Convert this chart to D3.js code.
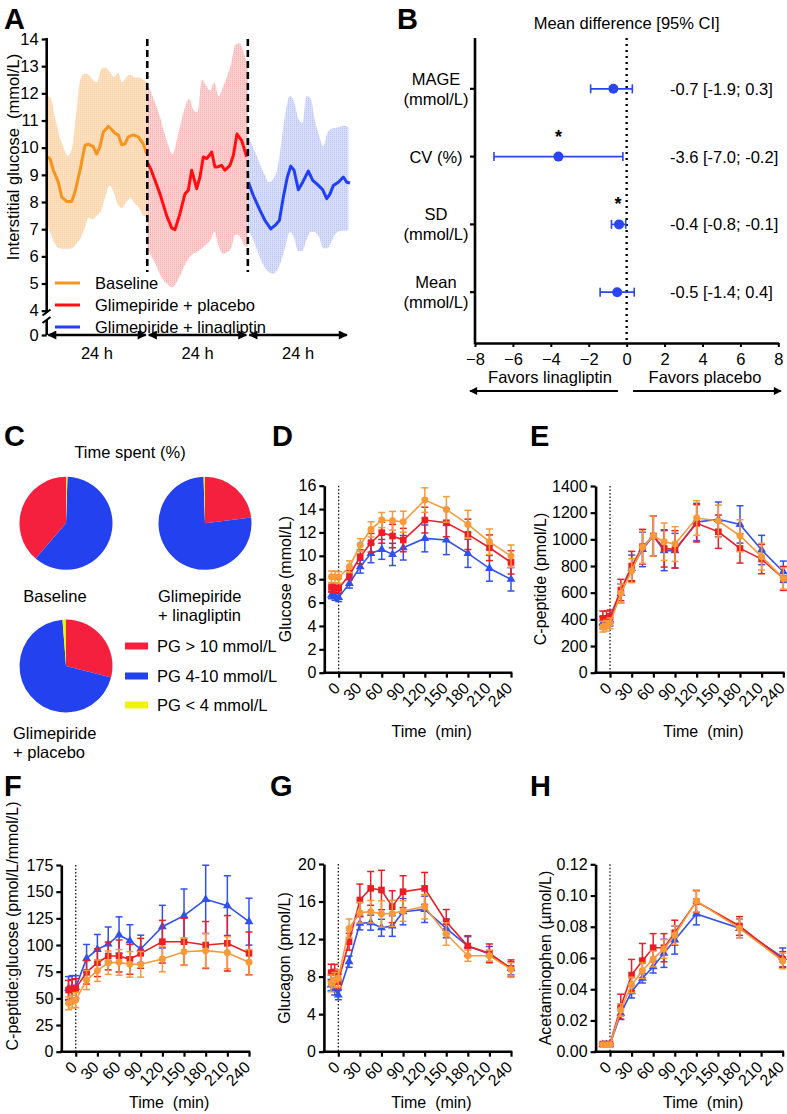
<!DOCTYPE html>
<html><head><meta charset="utf-8">
<script src="https://cdn.jsdelivr.net/npm/d3@7"></script>
<style>
body{margin:0;background:#fff}
svg{font-family:"Liberation Sans",Arial,Helvetica,sans-serif}
</style>
</head><body>
<svg id="c" width="787" height="1114"></svg>
<script>
// ---------------- DATA ----------------
// Panel A: 24-h interstitial glucose (hours within each 24-h period)
const baselineHours = [0,0.79,1.58,2.77,3.58,4.77,5.97,6.75,7.95,9.14,9.93,11.12,11.93,12.72,13.51,14.7,15.51,16.3,17.09,17.9,18.69,19.47,20.67,21.86,23.05,23.87];
const baselineMean  = [9.66,9.6,9.17,8.73,8.18,8.02,8.02,8.37,9.17,10.09,10.13,10.04,9.76,10.04,10.58,10.79,10.67,10.53,10.47,10.11,10.14,10.4,10.47,10.4,10.14,9.78];
const placeboHours  = [0.05,0.88,1.84,3.03,4.63,5.82,6.61,7.8,9.0,9.79,10.6,11.79,12.58,13.37,14.18,14.73,15.37,16.16,16.95,17.76,18.54,19.74,20.53,21.41,22.53,23.72];
const placeboMean   = [9.45,9.2,8.8,8.3,7.5,7.05,6.98,7.57,8.3,8.43,9.17,8.49,8.92,9.66,9.6,9.7,9.84,9.29,9.3,9.35,9.17,9.35,9.7,10.5,10.26,9.66];
const linaHours     = [0.12,1.31,2.91,4.1,5.47,6.49,7.52,8.47,9.43,10.24,11.03,12.05,13.1,14.44,15.49,16.59,17.88,18.83,19.62,20.41,21.6,22.79,23.6,24.39];
const linaMean      = [8.73,8.24,7.69,7.32,7.01,7.14,7.32,8.18,8.92,9.32,9.17,8.45,8.73,9.14,8.8,8.65,8.45,8.12,8.3,8.61,8.73,8.92,8.73,8.7];
const bandHours     = [0,1,2,3,4,5,6,7,8,9,10,11,12,13,14,15,16,17,18,19,20,21,22,23,24];
const baselineUpper = [11.93,11.8,11.1,10.45,10.0,9.7,9.95,11.2,12.5,12.73,12.68,12.5,12.4,12.9,12.95,12.8,12.6,12.75,12.4,12.6,12.68,12.58,12.58,12.5,12.4];
const baselineLower = [7.2,6.8,6.45,6.3,6.28,6.28,6.3,6.45,6.65,7.0,7.42,7.37,7.5,7.68,8.2,8.6,8.35,7.9,7.78,8.0,8.15,7.95,7.8,7.5,7.45];
const placeboUpper  = [12.35,12.0,11.6,11.15,10.6,10.1,9.75,10.25,10.9,11.5,11.8,11.4,11.3,12.49,12.3,12.1,12.4,11.9,12.2,12.6,13.1,13.78,13.84,13.5,13.0];
const placeboLower  = [6.3,6.0,5.7,5.35,5.1,4.95,4.86,5.05,5.35,5.7,5.95,6.1,6.17,6.3,6.43,6.58,6.9,6.4,6.1,6.15,6.3,6.8,6.75,6.45,6.34];
const linaUpper     = [10.46,10.1,9.75,9.35,9.0,8.73,8.85,9.2,10.2,11.3,11.9,11.7,11.1,10.9,11.9,11.8,11.0,10.45,10.05,10.55,10.7,10.73,10.78,10.82,10.75];
const linaLower     = [7.0,6.7,6.33,5.9,5.6,5.42,5.36,5.5,5.85,6.4,6.9,6.7,6.2,6.2,6.6,6.9,6.9,6.7,6.3,6.3,6.55,6.85,6.93,6.95,6.95];
const legendA = ["Baseline","Glimepiride + placebo","Glimepiride + linagliptin"];
const yTicksA = [0,4,5,6,7,8,9,10,11,12,13,14];

// Panel B: forest plot (mean difference and 95% CI)
const bNames = ["MAGE","CV","SD","Mean"];
const bLabels = [["MAGE","(mmol/L)"],["CV (%)"],["SD","(mmol/L)"],["Mean","(mmol/L)"]];
const bMean = [-0.7,-3.6,-0.4,-0.5];
const bLowCI = [-1.9,-7.0,-0.8,-1.4];
const bHighCI = [0.3,-0.2,-0.05,0.4];
const bStar = [false,true,true,false];
const bTicks = [-8,-6,-4,-2,0,2,4,6,8];
const bText = ["-0.7 [-1.9; 0.3]","-3.6 [-7.0; -0.2]","-0.4 [-0.8; -0.1]","-0.5 [-1.4; 0.4]"];

// Panel C: time spent (%)
const pgCats = ["PG > 10 mmol/L","PG 4-10 mmol/L","PG < 4 mmol/L"];
const pieBaseline = [38.7,60.8,0.5];
const pieLina     = [23.0,76.5,0.5];
const piePlacebo  = [29.0,69.8,1.2];

// Panels D-H: meal test time courses
const tAll = [-10,-5,0,15,30,45,60,75,90,120,150,180,210,240];
const tH   = [-10,-5,0,15,30,45,60,75,90,120,180,240];
const xTicks = [0,30,60,90,120,150,180,210,240];

const glucBase = [8.2,8.2,8.15,9.07,10.92,12.26,13.06,13.0,12.92,14.77,13.97,12.69,11.2,9.98];
const glucBaseE= [0.5,0.5,0.5,0.5,0.55,0.65,0.65,0.8,0.9,1.05,1.1,1.2,1.1,0.95];
const glucPlac = [7.3,7.25,7.21,8.36,9.92,11.12,11.98,11.69,11.35,13.06,12.83,11.84,10.69,9.44];
const glucPlacE= [0.4,0.4,0.4,0.4,0.6,0.8,0.9,1.0,1.0,1.1,1.2,1.3,1.1,1.0];
const glucLina = [6.64,6.5,6.44,7.64,9.07,10.21,10.55,10.12,10.69,11.49,11.35,10.21,8.93,7.99];
const glucLinaE= [0.3,0.3,0.35,0.4,0.55,0.8,0.85,0.95,1.05,1.15,1.25,1.2,1.1,1.0];

const cpepBase = [345,352,370,595,765,940,1025,982,965,1160,1137,1027,870,707];
const cpepBaseE= [40,40,40,70,90,120,150,140,130,130,120,120,100,80];
const cpepPlac = [407,407,420,620,800,945,1025,932,925,1120,1057,932,852,707];
const cpepPlacE= [55,55,50,80,110,130,150,140,140,140,125,110,110,90];
const cpepLina = [375,382,395,595,782,925,1025,915,915,1130,1150,1112,920,757];
const cpepLinaE= [45,45,45,70,100,130,150,150,130,140,130,140,110,80];

const ratioBase = [45.3,46.9,48.4,67.2,75.9,83.4,83.75,81.9,81.9,86.9,93.75,94.7,92.8,83.75];
const ratioBaseE= [6,6,7,9,10,11,12,12,12,12,13,16,15,12];
const ratioPlac = [57.8,58.75,59.4,74.4,83.4,89.7,89.7,86.6,92.2,103.1,103.1,100,101.6,92.2];
const ratioPlacE= [9,9,9,11,13,13,15,14,14,20,22,22,26,20];
const ratioLina = [59.4,60.3,60.3,87.5,95.9,100.9,109.4,104,96.25,117.2,127.5,142.8,136.9,121.9];
const ratioLinaE= [11,11,11,13,14,16,17,15,13,20,25,32,28,22];

const glcgBase = [7.28,7.64,7.82,13.14,14.81,14.92,14.67,14.74,14.99,15.45,12.54,10.23,10.23,8.77];
const glcgBaseE= [0.9,0.8,0.9,1.0,1.1,1.2,1.4,1.4,1.1,1.3,1.2,0.6,0.6,0.7];
const glcgPlac = [8.42,8.5,7.46,11.72,16.16,17.4,17.23,15.45,17.05,17.4,13.85,11.26,10.48,8.88];
const glcgPlacE= [0.9,0.8,0.8,0.9,1.7,1.8,2.1,1.7,1.7,1.7,1.3,1.1,1.0,0.9];
const glcgLina = [7.1,6.64,6.04,9.59,13.68,13.75,13.21,13.39,14.92,15.17,13.14,11.26,10.41,8.88];
const glcgLinaE= [0.6,0.6,0.5,0.6,0.7,0.8,0.9,1.1,1.4,1.4,1.0,1.0,0.8,0.7];

const acetBase = [0.0045,0.0045,0.0045,0.0267,0.0427,0.0519,0.0594,0.0658,0.0747,0.0965,0.079,0.0581];
const acetBaseE= [0.0005,0.0005,0.0005,0.004,0.005,0.005,0.005,0.006,0.006,0.007,0.006,0.005];
const acetPlac = [0.0049,0.0049,0.0049,0.0288,0.0491,0.0583,0.0666,0.0666,0.0762,0.0961,0.0805,0.0591];
const acetPlacE= [0.0005,0.0005,0.0005,0.008,0.010,0.011,0.009,0.009,0.008,0.007,0.006,0.005];
const acetLina = [0.0045,0.0045,0.0045,0.0246,0.0384,0.047,0.0544,0.063,0.0715,0.0882,0.079,0.0604];
const acetLinaE= [0.0005,0.0005,0.0005,0.004,0.004,0.003,0.004,0.009,0.009,0.007,0.006,0.006];

// ---------------- DRAWING ----------------
const svg = d3.select("#c");
const COL = {base:"#f7941d", plac:"#ff1010", lina:"#2040f5"};
const COL2 = {base:"#f8993a", plac:"#ee1c24", lina:"#3050f0"};
const FS = 16.5;

const defs = svg.append("defs");
defs.append("marker").attr("id","ah").attr("viewBox","0 0 10 10").attr("refX",9).attr("refY",5)
  .attr("markerWidth",4.4).attr("markerHeight",3.6).attr("orient","auto-start-reverse")
  .append("path").attr("d","M0,0 L10,5 L0,10 z").attr("fill","#000");
function hatch(id,color){
  const p = defs.append("pattern").attr("id",id).attr("patternUnits","userSpaceOnUse").attr("width",2).attr("height",2);
  p.append("rect").attr("width",0.8).attr("height",1.3).attr("fill",color);
}
hatch("hb",COL.base); hatch("hp",COL.plac); hatch("hl",COL.lina);

function letter(t,x,y){ svg.append("text").attr("x",x).attr("y",y).attr("font-size",29).attr("font-weight","bold").text(t); }
letter("A",4,29); letter("B",397,29); letter("C",4,446); letter("D",272,446);
letter("E",530,446); letter("F",4,796); letter("G",270,796); letter("H",530,796);

// ===== Panel A =====
(function(){
  const g = svg.append("g");
  const x = d3.scaleLinear().domain([0,72]).range([46.7,348.4]);
  const y = d3.scaleLinear().domain([0,2,4,14]).range([335,322,310.7,39]);
  const segs = [
    {off:0, h:baselineHours, m:baselineMean, up:baselineUpper, lo:baselineLower, c:COL.base, band:"#fde0c2", pat:"hb"},
    {off:24, h:placeboHours, m:placeboMean, up:placeboUpper, lo:placeboLower, c:COL.plac, band:"#fcd2d2", pat:"hp"},
    {off:48, h:linaHours, m:linaMean, up:linaUpper, lo:linaLower, c:COL.lina, band:"#dbe0fa", pat:"hl"}
  ];
  segs.forEach(s=>{
    const area = d3.area().x((d,i)=>x(s.off+bandHours[i])).y0((d,i)=>y(s.lo[i])).y1((d,i)=>y(s.up[i])).curve(d3.curveMonotoneX);
    g.append("path").attr("d",area(bandHours)).attr("fill",s.band);
    g.append("path").attr("d",area(bandHours)).attr("fill",`url(#${s.pat})`).attr("opacity",0.22);
  });
  segs.forEach(s=>{
    const line = d3.line().x((d,i)=>x(s.off+s.h[i])).y(d=>y(d)).curve(d3.curveLinear);
    g.append("path").attr("d",line(s.m)).attr("fill","none").attr("stroke",s.c).attr("stroke-width",3).attr("stroke-linejoin","round");
  });
  [24,48].forEach(h=>{
    g.append("line").attr("x1",x(h)).attr("x2",x(h)).attr("y1",y(14)).attr("y2",272)
      .attr("stroke","#000").attr("stroke-width",2.6).attr("stroke-dasharray","7,4");
  });
  const ax = g.append("g").attr("transform","translate(46.7,0)")
    .call(d3.axisLeft(y).tickValues(yTicksA).tickSize(5).tickPadding(3).tickFormat(d3.format("d")));
  ax.select(".domain").remove();
  ax.selectAll("line").attr("stroke-width",2.2);
  ax.selectAll("text").attr("font-size",FS).attr("font-family","inherit");
  g.append("line").attr("x1",46.7).attr("x2",46.7).attr("y1",y(14)-1).attr("y2",312.5).attr("stroke","#000").attr("stroke-width",2.6);
  g.append("line").attr("x1",46.7).attr("x2",46.7).attr("y1",320).attr("y2",y(0)).attr("stroke","#000").attr("stroke-width",2.6);
  [312.5,320].forEach(yy=>{
    g.append("line").attr("x1",42.5).attr("x2",50.5).attr("y1",yy+3).attr("y2",yy-3).attr("stroke","#000").attr("stroke-width",2);
  });
  g.append("text").attr("transform","translate(13,157) rotate(-90)").attr("text-anchor","middle")
    .attr("dominant-baseline","central").attr("font-size",FS).style("white-space","pre").text("Interstitial glucose  (mmol/L)");
  [0,1,2].forEach(i=>{
    g.append("line").attr("x1",x(24*i)+1.5).attr("x2",x(24*(i+1))-1.5).attr("y1",y(0)).attr("y2",y(0))
      .attr("stroke","#000").attr("stroke-width",2.5).attr("marker-start","url(#ah)").attr("marker-end","url(#ah)");
    g.append("text").attr("x",x(24*i+12)).attr("y",359).attr("text-anchor","middle").attr("font-size",FS).text("24 h");
  });
  const lc = [COL.base,COL.plac,COL.lina];
  const ly = [283,305,327];
  legendA.forEach((t,i)=>{
    g.append("line").attr("x1",55).attr("x2",80).attr("y1",ly[i]).attr("y2",ly[i]).attr("stroke",lc[i]).attr("stroke-width",3);
    g.append("text").attr("x",95).attr("y",ly[i]).attr("dominant-baseline","central").attr("font-size",FS).text(t);
  });
})();

// ===== Panel B =====
(function(){
  const g = svg.append("g");
  const x = d3.scaleLinear().domain([-8,8]).range([475,778.3]);
  const y = d3.scalePoint().domain(bNames).range([38,343]).padding(0.75);
  const blue = "#2a46f2";
  g.append("text").attr("x",x(0)).attr("y",29).attr("text-anchor","middle").attr("font-size",FS).text("Mean difference [95% CI]");
  g.append("line").attr("x1",x(0)).attr("x2",x(0)).attr("y1",38).attr("y2",343)
    .attr("stroke","#000").attr("stroke-width",2.4).attr("stroke-dasharray","2,4");
  const xa = g.append("g").attr("transform","translate(0,343)")
    .call(d3.axisBottom(x).tickValues(bTicks).tickSize(4).tickSizeOuter(0).tickPadding(6).tickFormat(d3.format("d")));
  xa.select(".domain").attr("stroke-width",2.6);
  xa.selectAll("line").attr("stroke-width",2);
  xa.selectAll("text").attr("font-size",FS).attr("font-family","inherit");
  g.append("line").attr("x1",475).attr("x2",475).attr("y1",38).attr("y2",344.3).attr("stroke","#000").attr("stroke-width",2.6);
  bNames.forEach((n,i)=>{
    const yy = y(n);
    g.append("line").attr("x1",470).attr("x2",475).attr("y1",yy).attr("y2",yy).attr("stroke","#000").attr("stroke-width",2.2);
    const lines = bLabels[i];
    lines.forEach((t,j)=>{
      const off = lines.length===1 ? 0 : (j===0 ? -10 : 10);
      g.append("text").attr("x",436).attr("y",yy+off).attr("text-anchor","middle").attr("dominant-baseline","central").attr("font-size",FS).text(t);
    });
    g.append("line").attr("x1",x(bLowCI[i])).attr("x2",x(bHighCI[i])).attr("y1",yy).attr("y2",yy).attr("stroke",blue).attr("stroke-width",1.6);
    [bLowCI[i],bHighCI[i]].forEach(v=>{
      g.append("line").attr("x1",x(v)).attr("x2",x(v)).attr("y1",yy-4.5).attr("y2",yy+4.5).attr("stroke",blue).attr("stroke-width",1.6);
    });
    g.append("circle").attr("cx",x(bMean[i])).attr("cy",yy).attr("r",5).attr("fill",blue);
    if(bStar[i]) g.append("text").attr("x",x(bMean[i]-(i===2?0.05:0))).attr("y",yy-14).attr("text-anchor","middle").attr("font-size",18).attr("font-weight","bold").text("*");
    g.append("text").attr("x",670).attr("y",yy).attr("dominant-baseline","central").attr("font-size",FS).text(bText[i]);
  });
  g.append("text").attr("x",550).attr("y",383).attr("text-anchor","middle").attr("font-size",FS).text("Favors linagliptin");
  g.append("text").attr("x",705).attr("y",383).attr("text-anchor","middle").attr("font-size",FS).text("Favors placebo");
  g.append("line").attr("x1",618).attr("x2",470).attr("y1",391).attr("y2",391).attr("stroke","#000").attr("stroke-width",2.2).attr("marker-end","url(#ah)");
  g.append("line").attr("x1",633).attr("x2",781).attr("y1",391).attr("y2",391).attr("stroke","#000").attr("stroke-width",2.2).attr("marker-end","url(#ah)");
})();

// ===== Panel C =====
(function(){
  const g = svg.append("g");
  const pcol = ["#f5203e","#2341ee","#f2f20a"];
  g.append("text").attr("x",130).attr("y",452).attr("text-anchor","middle").attr("dominant-baseline","central").attr("font-size",FS).text("Time spent (%)");
  const pies = [
    {v:pieBaseline, cx:66, cy:523.3, start:2*Math.PI, end:0},
    {v:pieLina, cx:205, cy:523.3, start:0, end:2*Math.PI},
    {v:piePlacebo, cx:66, cy:666, start:0, end:2*Math.PI}
  ];
  const arc = d3.arc().innerRadius(0).outerRadius(46.5);
  pies.forEach(p=>{
    const pie = d3.pie().sort(null).startAngle(p.start).endAngle(p.end);
    g.append("g").attr("transform",`translate(${p.cx},${p.cy})`).selectAll("path").data(pie(p.v)).join("path")
      .attr("d",arc).attr("fill",(d,i)=>pcol[i]);
  });
  const lab = (t,x,y,a)=>g.append("text").attr("x",x).attr("y",y).attr("text-anchor",a).attr("dominant-baseline","central").attr("font-size",FS).text(t);
  lab("Baseline",55,596,"middle");
  lab("Glimepiride",158,596,"start");
  lab("+ linagliptin",158,615,"start");
  lab("Glimepiride",13,733,"start");
  lab("+ placebo",13,752,"start");
  const ly=[646,676,705];
  pgCats.forEach((t,i)=>{
    g.append("rect").attr("x",125).attr("y",ly[i]-3.5).attr("width",23).attr("height",7).attr("fill",pcol[i]);
    lab(t,157,ly[i],"start");
  });
})();

// ===== Panels D-H =====
function timecourse(cfg){
  const g = svg.append("g");
  const x = d3.scaleLinear().domain([-20,240]).range([cfg.x0,cfg.x1]);
  const y = d3.scaleLinear().domain([0,cfg.ymax]).range([cfg.y0,cfg.y1]);
  g.append("line").attr("x1",x(0)).attr("x2",x(0)).attr("y1",cfg.y1).attr("y2",cfg.y0)
    .attr("stroke","#000").attr("stroke-width",1.2).attr("stroke-dasharray","1.5,2");
  const ya = g.append("g").attr("transform",`translate(${cfg.x0},0)`)
    .call(d3.axisLeft(y).tickValues(cfg.yticks).tickSize(5).tickSizeOuter(0).tickPadding(3).tickFormat(cfg.fmt));
  ya.select(".domain").attr("stroke-width",2.6);
  ya.selectAll("line").attr("stroke-width",2.2);
  ya.selectAll("text").attr("font-size",16).attr("font-family","inherit");
  const xa = g.append("g").attr("transform",`translate(0,${cfg.y0})`)
    .call(d3.axisBottom(x).tickValues(xTicks).tickSize(5).tickSizeOuter(0).tickFormat(d3.format("d")));
  xa.select(".domain").attr("stroke-width",2.6).attr("d",`M${cfg.x0-1.3},0H${cfg.x1+1.3}`);
  xa.selectAll("line").attr("stroke-width",2.2);
  xa.selectAll("text").attr("font-size",16).attr("font-family","inherit")
    .attr("text-anchor","end").attr("y",0).attr("dy","0.3em")
    .attr("transform","translate(-1.5,13) rotate(-45)");
  g.append("text").attr("transform",`translate(${cfg.ylx},${cfg.yly}) rotate(-90)`).attr("text-anchor","middle")
    .attr("dominant-baseline","central").attr("font-size",16).text(cfg.ylabel);
  g.append("text").attr("x",(cfg.x0+cfg.x1)/2+14).attr("y",cfg.tly).attr("text-anchor","middle")
    .attr("font-size",16).style("white-space","pre").text("Time  (min)");
  cfg.series.forEach(s=>{
    const line = d3.line().x((d,i)=>x(cfg.t[i])).y(d=>y(d));
    g.append("path").attr("d",line(s.v)).attr("fill","none").attr("stroke",s.c).attr("stroke-width",1.6);
    const eb = g.append("g").attr("stroke",s.c).attr("stroke-width",1.5);
    s.v.forEach((v,i)=>{
      const xx = x(cfg.t[i]), yt = y(v+s.e[i]), yb = y(v-s.e[i]);
      eb.append("line").attr("x1",xx).attr("x2",xx).attr("y1",yt).attr("y2",yb);
      eb.append("line").attr("x1",xx-3.5).attr("x2",xx+3.5).attr("y1",yt).attr("y2",yt);
      eb.append("line").attr("x1",xx-3.5).attr("x2",xx+3.5).attr("y1",yb).attr("y2",yb);
    });
    g.append("g").selectAll("path").data(s.v).join("path")
      .attr("transform",(d,i)=>`translate(${x(cfg.t[i])},${y(d)})`)
      .attr("d",d3.symbol().type(s.sym).size(s.size)).attr("fill",s.c);
  });
}
const ser = (lv,le,pv,pe,bv,be)=>[
  {v:lv,e:le,c:COL2.lina,sym:d3.symbolTriangle,size:34},
  {v:pv,e:pe,c:COL2.plac,sym:d3.symbolSquare,size:44},
  {v:bv,e:be,c:COL2.base,sym:d3.symbolCircle,size:38}
];
timecourse({x0:324.3,x1:511,y0:672.7,y1:485.7,ymax:16,yticks:d3.range(0,17,2),fmt:d3.format("d"),
  ylabel:"Glucose (mmol/L)",ylx:285,yly:579,tly:737,t:tAll,
  series:ser(glucLina,glucLinaE,glucPlac,glucPlacE,glucBase,glucBaseE)});
timecourse({x0:595.6,x1:783.3,y0:672.7,y1:486,ymax:1400,yticks:d3.range(0,1401,200),fmt:d3.format("d"),
  ylabel:"C-peptide (pmol/L)",ylx:540,yly:579,tly:737,t:tAll,
  series:ser(cpepLina,cpepLinaE,cpepPlac,cpepPlacE,cpepBase,cpepBaseE)});
timecourse({x0:61.3,x1:249,y0:1051.7,y1:865,ymax:175,yticks:d3.range(0,176,25),fmt:d3.format("d"),
  ylabel:"C-peptide:glucose (pmol/L/mmol/L)",ylx:12.5,yly:926,tly:1108,t:tAll,
  series:ser(ratioLina,ratioLinaE,ratioPlac,ratioPlacE,ratioBase,ratioBaseE)});
timecourse({x0:323.9,x1:511,y0:1051.7,y1:864,ymax:20,yticks:d3.range(0,21,4),fmt:d3.format("d"),
  ylabel:"Glucagon (pmol/L)",ylx:284,yly:958,tly:1108,t:tAll,
  series:ser(glcgLina,glcgLinaE,glcgPlac,glcgPlacE,glcgBase,glcgBaseE)});
timecourse({x0:595.6,x1:782.7,y0:1051.7,y1:864.3,ymax:0.12,yticks:[0,0.02,0.04,0.06,0.08,0.10,0.12],fmt:d3.format(".2f"),
  ylabel:"Acetaminophen (µmol/L)",ylx:545,yly:958,tly:1108,t:tH,
  series:ser(acetLina,acetLinaE,acetPlac,acetPlacE,acetBase,acetBaseE)});
</script>
</body></html>
